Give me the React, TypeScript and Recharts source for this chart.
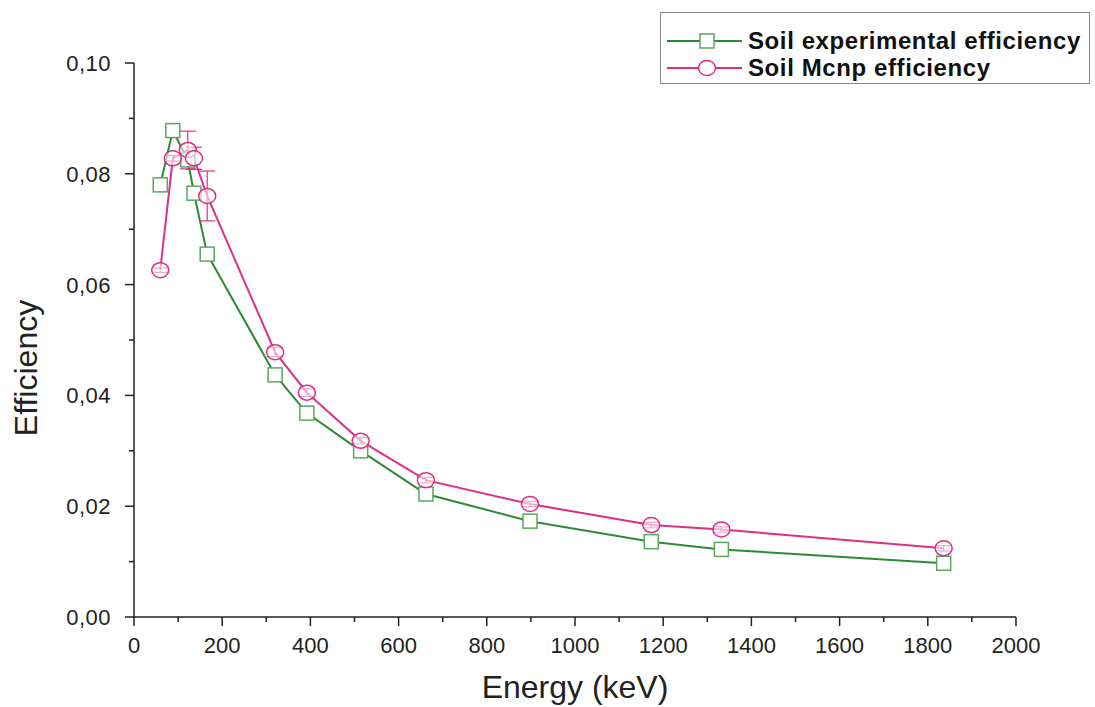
import React from "react";
import { LineChart, Line, XAxis, YAxis, ErrorBar, Label } from "recharts";

const EXP_ENERGY = [59.5, 88, 122, 136, 166, 320, 392, 514, 662, 898, 1173, 1332, 1836];
const EXP_EFF = [0.078, 0.0878, 0.0825, 0.0765, 0.0655, 0.0437, 0.0368, 0.03, 0.0222, 0.0173, 0.0136, 0.0122, 0.0097];

const MCNP_ENERGY = [59.5, 88, 122, 136, 166, 320, 392, 514, 662, 898, 1173, 1332, 1836];
const MCNP_EFF = [0.0626, 0.0828, 0.0843, 0.0828, 0.076, 0.0478, 0.0405, 0.0318, 0.0247, 0.0204, 0.0166, 0.0158, 0.0124];
const MCNP_ERR = [0.0004, 0.0005, 0.0034, 0.002, 0.0045, 0.0008, 0.0007, 0.0006, 0.0005, 0.0005, 0.0005, 0.0005, 0.0005];

const X_TICKS = [0, 100, 200, 300, 400, 500, 600, 700, 800, 900, 1000, 1100, 1200, 1300, 1400, 1500, 1600, 1700, 1800, 1900, 2000];
const Y_TICKS = [0, 0.01, 0.02, 0.03, 0.04, 0.05, 0.06, 0.07, 0.08, 0.09, 0.1];

const GREEN = "#2f8a35";
const GREEN_MARK = "#5aa860";
const PINK = "#dd2f86";
const AXIS = "#222";
const FONT = "'Liberation Sans', Arial, sans-serif";

const expData = EXP_ENERGY.map((e, i) => ({ energy: e, eff: EXP_EFF[i] }));
const mcnpData = MCNP_ENERGY.map((e, i) => ({ energy: e, eff: MCNP_EFF[i], err: MCNP_ERR[i] }));

function XTick({ x, y, payload }: any) {
  const major = payload.value % 200 === 0;
  return (
    <g>
      <line x1={x} y1={y} x2={x} y2={y + (major ? 9 : 5)} stroke={AXIS} strokeWidth={1.5} />
      {major && (
        <text x={x} y={y + 36} textAnchor="middle" fontSize={22} fontFamily={FONT} fill="#222">
          {payload.value}
        </text>
      )}
    </g>
  );
}

function YTick({ x, y, payload }: any) {
  const major = Math.round(payload.value * 100) % 2 === 0;
  return (
    <g>
      <line x1={x - (major ? 9 : 5)} y1={y} x2={x} y2={y} stroke={AXIS} strokeWidth={1.5} />
      {major && (
        <text x={x - 23} y={y + 8} textAnchor="end" fontSize={22} fontFamily={FONT} fill="#222" letterSpacing={0.5}>
          {payload.value.toFixed(2).replace(".", ",")}
        </text>
      )}
    </g>
  );
}

function SquareDot({ cx, cy, index }: any) {
  if (cx == null || cy == null) return <g key={index} />;
  return <rect key={index} x={cx - 7} y={cy - 7} width={14} height={14} fill="#fff" stroke={GREEN_MARK} strokeWidth={1.5} />;
}

function CircleDot({ cx, cy, index }: any) {
  if (cx == null || cy == null) return <g key={index} />;
  return <ellipse key={index} cx={cx} cy={cy} rx={8.5} ry={7.5} fill="#fff" fillOpacity={0.6} stroke={PINK} strokeWidth={1.5} />;
}

function ChartLegend() {
  return (
    <svg width={430} height={72} style={{ display: "block" }}>
      <rect x={0.5} y={0.5} width={429} height={71} fill="#fff" stroke="#888" strokeWidth={1} />
      <line x1={7} y1={29} x2={82} y2={29} stroke={GREEN} strokeWidth={2} />
      <rect x={40} y={22} width={14} height={14} fill="#fff" stroke={GREEN_MARK} strokeWidth={1.5} />
      <text x={88} y={37} fontSize={24} fontWeight="bold" fontFamily={FONT} fill="#111" letterSpacing={0.6}>
        Soil experimental efficiency
      </text>
      <line x1={7} y1={56} x2={82} y2={56} stroke={PINK} strokeWidth={2} />
      <ellipse cx={47} cy={56} rx={8.5} ry={7.5} fill="#fff" stroke={PINK} strokeWidth={1.5} />
      <text x={88} y={64} fontSize={24} fontWeight="bold" fontFamily={FONT} fill="#111" letterSpacing={0.6}>
        Soil Mcnp efficiency
      </text>
    </svg>
  );
}

export default function App() {
  return (
    <div style={{ position: "absolute", left: 0, top: 0, width: 1095, height: 707, background: "#fff" }}>
      <LineChart width={1095} height={707} margin={{ top: 63, right: 79, bottom: 0, left: 0 }}>
        <XAxis
          dataKey="energy"
          type="number"
          domain={[0, 2000]}
          ticks={X_TICKS}
          interval={0}
          tickSize={0}
          tickMargin={0}
          tick={<XTick />}
          height={90}
          stroke={AXIS}
          strokeWidth={1.5}
          allowDuplicatedCategory={false}
        >
          <Label
            content={({ viewBox }: any) => (
              <text
                x={viewBox.x + viewBox.width / 2}
                y={viewBox.y + 81}
                textAnchor="middle"
                fontSize={32}
                fontFamily={FONT}
                fill="#222"
              >
                Energy (keV)
              </text>
            )}
          />
        </XAxis>
        <YAxis
          type="number"
          domain={[0, 0.1]}
          ticks={Y_TICKS}
          interval={0}
          tickSize={0}
          tickMargin={0}
          tick={<YTick />}
          width={134}
          stroke={AXIS}
          strokeWidth={1.5}
        >
          <Label
            content={() => (
              <text
                x={37}
                y={368}
                transform="rotate(-90, 37, 368)"
                textAnchor="middle"
                fontSize={32}
                fontFamily={FONT}
                fill="#222"
              >
                Efficiency
              </text>
            )}
          />
        </YAxis>
        <Line
          data={expData}
          dataKey="eff"
          name="Soil experimental efficiency"
          stroke={GREEN}
          strokeWidth={2}
          dot={SquareDot}
          activeDot={false}
          isAnimationActive={false}
        />
        <Line
          data={mcnpData}
          dataKey="eff"
          name="Soil Mcnp efficiency"
          stroke={PINK}
          strokeWidth={2}
          dot={CircleDot}
          activeDot={false}
          isAnimationActive={false}
        >
          <ErrorBar dataKey="err" direction="y" width={8} stroke={PINK} strokeWidth={1.2} />
        </Line>
      </LineChart>
      <div style={{ position: "absolute", left: 660, top: 12 }}>
        <ChartLegend />
      </div>
    </div>
  );
}
